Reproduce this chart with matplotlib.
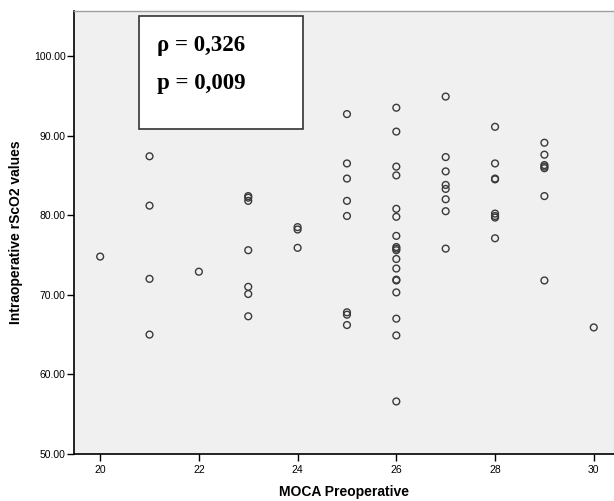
import numpy as np
import matplotlib.pyplot as plt

# MOCA score and rScO2 values
moca = [20,
        21, 21, 21, 21,
        22,
        23, 23, 23, 23, 23, 23, 23,
        24, 24, 24,
        25, 25, 25, 25, 25, 25, 25, 25,
        26, 26, 26, 26, 26, 26, 26, 26, 26, 26, 26, 26, 26, 26, 26, 26, 26, 26,
        27, 27, 27, 27, 27, 27, 27, 27,
        28, 28, 28, 28, 28, 28, 28, 28,
        29, 29, 29, 29, 29, 29, 29,
        30]
rsco2 = [74.8,
         87.4, 81.2, 72.0, 65.0,
         72.9,
         82.4, 82.2, 81.8, 75.6, 71.0, 70.1, 67.3,
         78.5, 78.2, 75.9,
         92.7, 86.5, 84.6, 81.8, 79.9, 67.8, 67.5, 66.2,
         93.5, 90.5, 86.1, 85.0, 80.8, 79.8, 77.4, 76.0, 75.8, 75.6, 74.5, 73.3,
         71.9, 71.8, 70.3, 67.0, 64.9, 56.6,
         94.9, 87.3, 85.5, 83.8, 83.3, 82.0, 80.5, 75.8,
         91.1, 86.5, 84.6, 84.5, 80.2, 79.9, 79.7, 77.1,
         89.1, 87.6, 86.3, 86.1, 85.9, 82.4, 71.8,
         65.9]

xticks = [20, 22, 24, 26, 28, 30]
yticks = [50, 60, 70, 80, 90, 100]
stats = ["\u03c1 = 0,326", "p = 0,009"]

plt.rcParams['font.family'] = ['Liberation Sans', 'DejaVu Sans']

fig = plt.figure(figsize=(6.14, 5.01), dpi=100)
ax = fig.add_axes([74/614, 1 - 454/501, 540/614, 443/501])
ax.set_facecolor('#f0f0f0')

ax.scatter(moca, rsco2, s=24, facecolors='none', edgecolors='#3a3a3a', linewidths=1.0, zorder=3)

ax.set_xlim(19.47, 30.41)
ax.set_ylim(50, 105.65)
ax.set_xticks(xticks)
ax.set_xticklabels([str(t) for t in xticks])
ax.set_yticks(yticks)
ax.set_yticklabels(['%.2f' % t for t in yticks])
ax.tick_params(axis='both', direction='out', length=5, width=1, labelsize=7.5, colors='black')
ax.tick_params(axis='x', pad=3)
ax.tick_params(axis='y', pad=1)

ax.spines['left'].set_linewidth(1.2)
ax.spines['bottom'].set_linewidth(1.2)
ax.spines['top'].set_color('#a0a0a0')
ax.spines['top'].set_linewidth(1.0)
ax.spines['right'].set_color('#a0a0a0')

ax.set_xlabel('MOCA Preoperative', fontsize=10, fontweight='bold', labelpad=7)
ax.set_ylabel('Intraoperative rScO2 values', fontsize=10, fontweight='bold', labelpad=8)

# annotation box with correlation stats
box = plt.Rectangle((139/614, 1 - 129/501), 164/614, 113/501, transform=fig.transFigure,
                    facecolor='white', edgecolor='#333333', linewidth=1.2, zorder=5)
fig.patches.append(box)
fig.text(157/614, 1 - 45/501, stats[0], fontsize=16.5, fontweight='bold',
         family=['Liberation Serif', 'DejaVu Serif'], va='center', ha='left', zorder=6)
fig.text(157/614, 1 - 84/501, stats[1], fontsize=16.5, fontweight='bold',
         family=['Liberation Serif', 'DejaVu Serif'], va='center', ha='left', zorder=6)

fig.savefig('out.png', dpi=100)
